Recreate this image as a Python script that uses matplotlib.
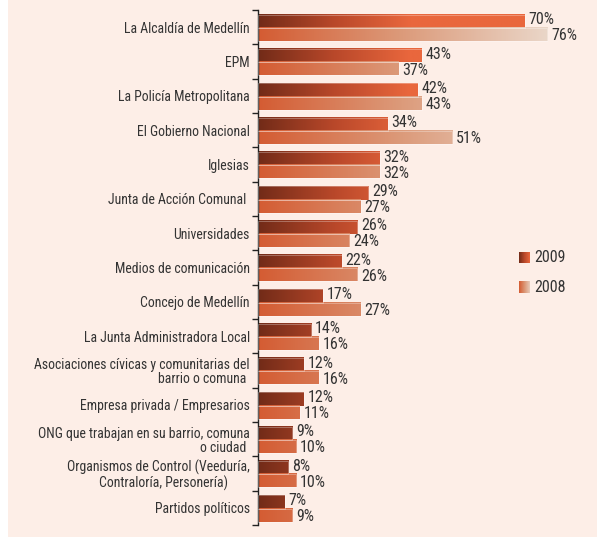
import numpy as np
import matplotlib.pyplot as plt
from matplotlib import font_manager as fm
from matplotlib.colors import LinearSegmentedColormap, Normalize
from matplotlib.patches import Rectangle

# buscar una fuente estrecha si existe
fuente = "Liberation Sans"
escala = 0.84
for fam in ["Liberation Sans Narrow", "DejaVu Sans Condensed", "Roboto Condensed"]:
    try:
        fm.findfont(fm.FontProperties(family=fam), fallback_to_default=False)
        fuente = fam
        escala = 1.0
        break
    except ValueError:
        pass
plt.rcParams['font.family'] = [fuente, 'DejaVu Sans']

# datos
categorias = [
    "La Alcaldía de Medellín",
    "EPM",
    "La Policía Metropolitana",
    "El Gobierno Nacional",
    "Iglesias",
    "Junta de Acción Comunal ",
    "Universidades",
    "Medios de comunicación",
    "Concejo de Medellín",
    "La Junta Administradora Local",
    "Asociaciones cívicas y comunitarias del\nbarrio o comuna ",
    "Empresa privada / Empresarios",
    "ONG que trabajan en su barrio, comuna\no ciudad ",
    "Organismos de Control (Veeduría,\nContraloría, Personería)       ",
    "Partidos políticos",
]
v2009 = [70, 43, 42, 34, 32, 29, 26, 22, 17, 14, 12, 12, 9, 8, 7]
v2008 = [76, 37, 43, 51, 32, 27, 24, 26, 27, 16, 16, 11, 10, 10, 9]
series = ["2009", "2008"]

fondo = "#fdeee7"
txt = "#333333"
fs_cat = 9.9 * escala
fs_val = 11.5 * escala

# degradados (fijos sobre el eje x)
cmap09 = LinearSegmentedColormap.from_list(
    "g09", [(0, "#722b18"), (0.5, "#b9482a"), (1, "#e9673d")])
cmap08 = LinearSegmentedColormap.from_list(
    "g08", [(0, "#d45c33"), (0.5, "#dc9b7b"), (1, "#ead6c8")])
norm09 = Normalize(0, 40)
norm08 = Normalize(0, 76)

fig = plt.figure(figsize=(5.97, 5.39), dpi=100)
fig.patches.append(Rectangle((8 / 597, 2 / 539), 1, 1, transform=fig.transFigure,
                             facecolor=fondo, edgecolor="none", zorder=-10))
ax = fig.add_axes([258 / 597, 14 / 539, 339 / 597, 515 / 539])
ax.set_facecolor("none")

n = len(categorias)
y = np.arange(n)
h = 0.38
xmax = 89


def barra_grad(val, yc, cmap, norm):
    xs = np.linspace(0, val, 200)
    ax.imshow(norm(xs)[None, :], cmap=cmap, vmin=0, vmax=1, aspect="auto",
              extent=(0, val, yc + h / 2, yc - h / 2), interpolation="bilinear",
              zorder=2)
    ax.add_patch(Rectangle((0, yc - h / 2), val, h, facecolor="none",
                           edgecolor=(1, 1, 1, 0.35), lw=0.6, zorder=3))


for i in range(n):
    y09 = y[i] - 0.17
    y08 = y[i] + 0.21
    barra_grad(v2009[i], y09, cmap09, norm09)
    barra_grad(v2008[i], y08, cmap08, norm08)
    ax.text(v2009[i] + 1.0, y09 - 0.04, f"{v2009[i]}%", va="center", ha="left",
            fontsize=fs_val, color=txt)
    ax.text(v2008[i] + 1.0, y08 + 0.04, f"{v2008[i]}%", va="center", ha="left",
            fontsize=fs_val, color=txt)

ax.set_xlim(0, xmax)
ax.set_ylim(n - 0.5, -0.5)

ax.set_yticks(y)
ax.set_yticklabels(categorias, fontsize=fs_cat, color=txt, ha="right",
                   multialignment="right", linespacing=1.0)
ax.set_yticks(np.arange(-0.5, n, 1), minor=True)
ax.tick_params(axis="y", which="major", length=0, pad=6)
ax.tick_params(axis="y", which="minor", length=4, width=1, color="#222222")
ax.set_xticks([])
for s in ["top", "right", "bottom"]:
    ax.spines[s].set_visible(False)
ax.spines["left"].set_color("#222222")
ax.spines["left"].set_linewidth(1)

# leyenda
leg_y = [(0.509, 0.530), (0.450, 0.472)]
for (y0, y1), cm, lab in zip(leg_y, [cmap09, cmap08], series):
    g = np.linspace(0, 1, 50)[None, :]
    if lab == "2008":
        g = g * 0.9
    ax.imshow(g, cmap=cm, vmin=0, vmax=1, aspect="auto",
              extent=(0.770, 0.802, y0, y1), transform=ax.transAxes, zorder=2)
    ax.text(0.816, (y0 + y1) / 2, lab, transform=ax.transAxes, va="center",
            ha="left", fontsize=fs_val, color=txt)
ax.set_xlim(0, xmax)
ax.set_ylim(n - 0.5, -0.5)

fig.savefig("out.png", dpi=100, facecolor="white")
